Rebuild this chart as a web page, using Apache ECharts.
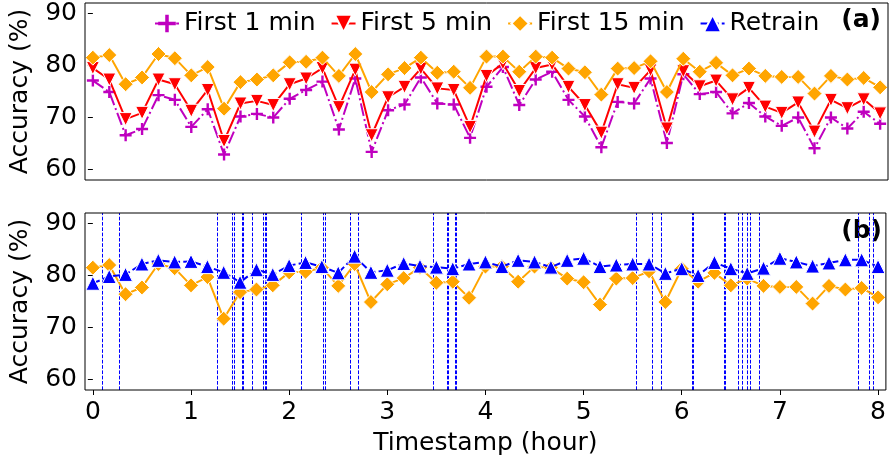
<!DOCTYPE html>
<html>
<head>
<meta charset="utf-8">
<script src="https://cdn.jsdelivr.net/npm/echarts@6/dist/echarts.min.js"></script>
<style>
  html, body { margin: 0; padding: 0; background: #fff; }
  #chart { width: 889px; height: 459px; }
</style>
</head>
<body>
<div id="chart"></div>
<script>
// Timestamps (hours) of each accuracy sample, one every 10 minutes
const hours = [0, 0.167, 0.333, 0.5, 0.667, 0.833, 1, 1.167, 1.333, 1.5, 1.667, 1.833,
  2, 2.167, 2.333, 2.5, 2.667, 2.833, 3, 3.167, 3.333, 3.5, 3.667, 3.833,
  4, 4.167, 4.333, 4.5, 4.667, 4.833, 5, 5.167, 5.333, 5.5, 5.667, 5.833,
  6, 6.167, 6.333, 6.5, 6.667, 6.833, 7, 7.167, 7.333, 7.5, 7.667, 7.833, 8];

// Accuracy (%) of models trained on the first N minutes only
const first1 = [77.1, 74.9, 66.6, 67.8, 74.3, 73.4, 68.2, 71.6, 62.9, 70.2, 70.7, 70.0,
  73.6, 75.3, 76.9, 67.7, 77.5, 63.4, 71.4, 72.5, 77.7, 72.7, 72.5, 66.1,
  75.9, 79.7, 72.4, 77.3, 78.8, 73.4, 70.2, 64.3, 73.0, 72.7, 77.5, 65.1,
  78.3, 74.5, 74.9, 70.8, 72.8, 70.2, 68.4, 70.0, 64.1, 70.0, 67.9, 71.1, 68.8];

const first5 = [79.5, 77.3, 69.7, 70.9, 77.3, 76.4, 71.3, 75.3, 65.5, 72.7, 73.2, 72.4,
  76.4, 77.5, 79.5, 72.0, 79.2, 66.6, 73.9, 75.9, 79.4, 75.6, 75.3, 68.2,
  78.0, 80.4, 75.1, 79.5, 80.2, 75.9, 72.4, 67.1, 76.4, 75.7, 79.1, 67.9,
  78.9, 76.0, 77.1, 73.5, 75.7, 72.1, 70.9, 72.9, 67.3, 73.4, 71.8, 73.5, 70.8];

const first15 = [81.5, 82.0, 76.4, 77.7, 82.2, 81.4, 78.1, 79.7, 71.7, 76.8, 77.3, 78.1,
  80.6, 80.7, 81.5, 78.0, 82.2, 74.9, 78.3, 79.5, 81.5, 78.6, 78.8, 75.7,
  81.7, 81.7, 78.8, 81.7, 81.5, 79.4, 78.7, 74.4, 79.4, 79.5, 80.8, 74.9,
  81.3, 78.8, 80.5, 78.1, 79.4, 78.0, 77.8, 77.8, 74.6, 78.0, 77.3, 77.6, 75.8];

// Accuracy (%) with periodic retraining
const retrain = [78.5, 79.8, 80.2, 82.2, 82.9, 82.6, 82.7, 81.7, 80.6, 78.7, 81.1, 80.2,
  81.9, 82.5, 81.7, 80.5, 83.7, 80.6, 81.0, 82.3, 81.8, 81.6, 81.3, 82.2,
  82.6, 81.7, 82.9, 82.6, 81.6, 82.9, 83.3, 81.7, 82.0, 82.2, 82.2, 80.4,
  81.3, 80.0, 82.5, 81.3, 80.4, 81.4, 83.3, 82.6, 81.8, 82.4, 83.0, 83.0, 81.7];

// Moments (hours) at which a retrain was triggered
const retrainTimes = [0.098, 0.267, 1.267, 1.42, 1.437, 1.52, 1.53, 1.617, 1.742, 1.757, 1.772,
  2.121, 2.352, 2.365, 2.623, 2.70, 3.47, 3.606, 3.616, 3.69, 3.70,
  5.541, 5.704, 5.788, 6.107, 6.117, 6.426, 6.44, 6.575, 6.619, 6.666, 6.70, 6.788,
  7.805, 7.914, 7.954];

// Axis ticks
const xTicks = [0, 1, 2, 3, 4, 5, 6, 7, 8];
const yTicks = [60, 70, 80, 90];

const FONT = 'DejaVu Sans';
const pairs = (ys) => hours.map((h, i) => [h, ys[i]]);
const PLUS = 'path://M4,0H6V4H10V6H6V10H4V6H0V4H4Z';

function xAxisFor(gridIndex, showLabels) {
  return {
    type: 'value', gridIndex, min: -0.08, max: 8.08,
    axisLine: { show: false },
    splitLine: { show: false },
    axisTick: { show: showLabels, customValues: xTicks, length: 5, inside: false,
      lineStyle: { color: '#000', width: 1 } },
    axisLabel: { show: showLabels, customValues: xTicks, margin: 10,
      fontSize: 25, fontFamily: FONT, color: '#000' },
    name: showLabels ? 'Timestamp (hour)' : '',
    nameLocation: 'middle', nameGap: 41,
    nameTextStyle: { fontSize: 25, fontFamily: FONT, color: '#000' }
  };
}
function yAxisFor(gridIndex) {
  return {
    type: 'value', gridIndex, min: 58, max: 92,
    axisLine: { show: false },
    splitLine: { show: false },
    axisTick: { show: true, customValues: yTicks, length: 5, inside: false,
      lineStyle: { color: '#000', width: 1 } },
    axisLabel: { customValues: yTicks, margin: 8, fontSize: 25, fontFamily: FONT, color: '#000' },
    name: 'Accuracy (%)', nameLocation: 'middle', nameGap: 52,
    nameTextStyle: { fontSize: 25, fontFamily: FONT, color: '#000' }
  };
}

const styles = {
  first1: { color: '#bf00bf', symbol: PLUS, symbolSize: 12, lineType: [12.8, 3.2, 2, 3.2], border: 0 },
  first5: { color: '#ff0000', symbol: 'triangle', symbolSize: 13, rotate: 180, lineType: 'solid', border: 1 },
  first15: { color: '#ffa500', symbol: 'diamond', symbolSize: 15, lineType: 'solid', border: 1 },
  retrain: { color: '#0000ff', symbol: 'triangle', symbolSize: 14, lineType: [7.4, 3.2], border: 1 }
};

function lineSeries(name, ys, st, gridIdx, z) {
  return {
    type: 'line', name, data: pairs(ys),
    xAxisIndex: gridIdx, yAxisIndex: gridIdx,
    symbol: st.symbol, symbolSize: st.symbolSize, symbolRotate: st.rotate || 0,
    showAllSymbol: true, z,
    lineStyle: { color: st.color, width: 2, type: st.lineType },
    itemStyle: { color: st.color, borderColor: '#fff', borderWidth: st.border, opacity: 1 },
    emphasis: { disabled: true },
    animation: false
  };
}

const chart = echarts.init(document.getElementById('chart'), null, { renderer: 'canvas' });
chart.setOption({
  backgroundColor: '#fff',
  animation: false,
  grid: [
    { left: 85, top: 3, width: 803, height: 177, show: true, borderColor: '#000', borderWidth: 1, backgroundColor: 'transparent', z: 10 },
    { left: 85, top: 213, width: 803, height: 177, show: true, borderColor: '#000', borderWidth: 1, backgroundColor: 'transparent', z: 10 }
  ],
  xAxis: [xAxisFor(0, false), xAxisFor(1, true)],
  yAxis: [yAxisFor(0), yAxisFor(1)],
  legend: {
    data: ['First 1 min', 'First 5 min', 'First 15 min', 'Retrain'],
    left: 149, top: 6,
    itemWidth: 24, itemHeight: 22, itemGap: 15,
    textStyle: { fontSize: 25, fontFamily: FONT, color: '#000' },
    selectedMode: false
  },
  graphic: [
    { type: 'text', right: 8, top: 8, style: { text: '(a)', font: 'bold 25px "DejaVu Sans"', fill: '#000' } },
    { type: 'text', right: 7, top: 219, style: { text: '(b)', font: 'bold 25px "DejaVu Sans"', fill: '#000' } }
  ],
  series: [
    lineSeries('First 1 min', first1, styles.first1, 0, 2),
    lineSeries('First 5 min', first5, styles.first5, 0, 3),
    lineSeries('First 15 min', first15, styles.first15, 0, 4),
    {
      type: 'line', name: 'retrain-events', data: [],
      xAxisIndex: 1, yAxisIndex: 1, z: 1,
      markLine: {
        silent: true, symbol: ['none', 'none'], animation: false, z: 1,
        label: { show: false },
        lineStyle: { color: '#0000ff', width: 1, type: [3.7, 1.6] },
        emphasis: { disabled: true },
        data: retrainTimes.map(t => ({ xAxis: t }))
      }
    },
    lineSeries('First 15 min', first15, styles.first15, 1, 3),
    lineSeries('Retrain', retrain, styles.retrain, 1, 4)
  ]
});
</script>
</body>
</html>
